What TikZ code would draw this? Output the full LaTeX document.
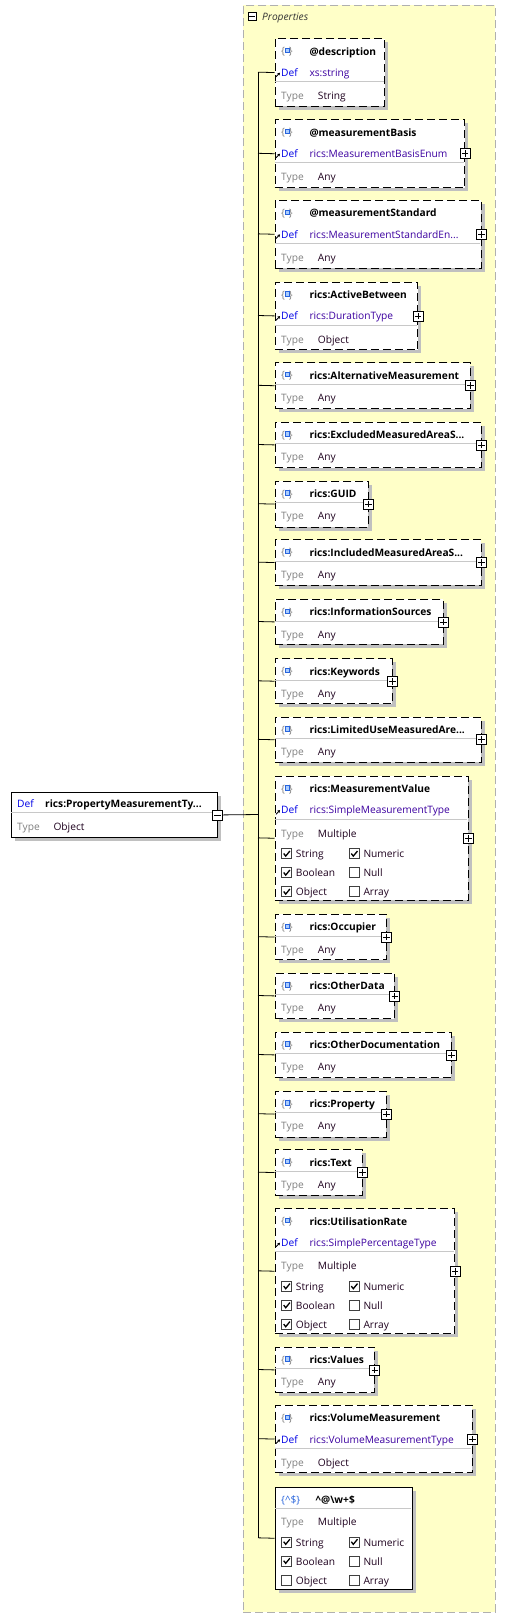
\documentclass[tikz,border=0pt]{standalone}
\usepackage{fontspec}
\setmainfont{Open Sans}
\usetikzlibrary{arrows.meta}
\definecolor{bgy}{RGB}{255,255,200}
\definecolor{bgb}{RGB}{176,176,176}
\definecolor{shd}{RGB}{192,192,192}
\definecolor{sepc}{RGB}{200,200,200}
\definecolor{defc}{RGB}{0,0,230}
\definecolor{valc}{RGB}{60,0,160}
\definecolor{typc}{RGB}{128,128,128}
\definecolor{txtc}{RGB}{30,0,30}
\definecolor{icb}{RGB}{40,100,220}
\definecolor{icf}{RGB}{170,205,255}
\newcommand\fsz{\fontsize{10.2}{12}\selectfont}
\tikzset{
  txt/.style={anchor=base west, inner sep=0pt, font=\fsz},
  ttl/.style={txt, font=\fsz\bfseries, text=black},
  deflbl/.style={txt, text=defc},
  defval/.style={txt, text=valc},
  lbl/.style={txt, text=typc},
  val/.style={txt, text=txtc},
  pbox/.style={draw=black, fill=white, line width=0.8pt, dash pattern=on 8pt off 4pt, inner sep=0pt, anchor=north west},
  sbox/.style={draw=black, fill=white, line width=0.8pt, inner sep=0pt, anchor=north west},
  sepl/.style={draw=sepc, line width=0.8pt},
  conn/.style={draw=black, line width=0.8pt},
  pm/.style={draw=black, fill=white, line width=0.8pt, minimum size=10pt, inner sep=0pt},
  cbx/.style={draw=black!75, fill=white, line width=0.7pt, minimum size=10pt, inner sep=0pt},
}
\newcommand\icon[3]{% name top x
  \node[txt, text=typc] (#1ib) at (280.8,{#2+16.5}) {\{};
  \node[txt, text=typc, anchor=base east] (#1ie) at (293,{#2+16.5}) {\}};
  \draw[draw=icb, fill=icf, line width=0.8pt] (284.9,{#2+10}) rectangle (289.3,{#2+14.4});
}
\newcommand\pb[7]{% id top bottom right title def type
  \fill[shd] (278.5,{#2+4}) rectangle ({#4+4},{#3+4});
  \node[pbox, minimum width={#4-274.5}, minimum height={#3-#2}] (#1) at (274.5,#2) {};
  \icon{#1}{#2}{}
  \node[ttl] (#1t) at (309.3,{#2+16.7}) {#5};
  \def\pbdef{#6}%
  \ifx\pbdef\empty
    \draw[sepl] (275,{#2+22}) -- ({#4-0.5},{#2+22});
    \node[lbl] (#1tl) at (281,{#2+39}) {Type};
    \node[val] (#1tv) at (317.7,{#2+39}) {#7};
  \else
    \node[deflbl] (#1dl) at (281,{#2+38}) {Def};
    \node[defval] (#1dv) at (309.3,{#2+38}) {#6};
    \draw[-{Stealth[length=2.6pt,width=3.2pt]}, line width=0.9pt] (275.9,{#2+38.6}) -- (280,{#2+34.4});
    \draw[sepl] (275,{#2+43.5}) -- ({#4-0.5},{#2+43.5});
    \node[lbl] (#1tl) at (281,{#2+61.4}) {Type};
    \node[val] (#1tv) at (317.7,{#2+61.4}) {#7};
  \fi
  \coordinate (j#1) at (258,{(#2+#3)/2});
  \draw[conn] (j#1) -- (#1.west);
}
\newcommand\plus[1]{%
  \node[pm] (#1p) at (#1.east) {};
  \draw[line width=0.8pt] ([xshift=-3.3pt]#1p.center) -- ([xshift=3.3pt]#1p.center);
  \draw[line width=0.8pt] ([yshift=-3.3pt]#1p.center) -- ([yshift=3.3pt]#1p.center);
}
\newcommand\cb[5]{% name x ycenter checked label
  \node[cbx] (#1) at (#2,#3) {};
  \ifnum#4=1
    \draw[line width=1.3pt, line join=miter] ([xshift=-3pt,yshift=0.3pt]#1.center) -- ([xshift=-1pt,yshift=-2.3pt]#1.center) -- ([xshift=3.2pt,yshift=2.8pt]#1.center);
  \fi
  \node[val] (#1l) at ({#2+9},{#3+4}) {#5};
}
\newcommand\checks[8]{% id typecenter s n b nl o a
  \cb{#1cs}{286.7}{#2+20.7}{#3}{String}
  \cb{#1cn}{354.3}{#2+20.7}{#4}{Numeric}
  \cb{#1cb}{286.7}{#2+39.7}{#5}{Boolean}
  \cb{#1cl}{354.3}{#2+39.7}{#6}{Null}
  \cb{#1co}{286.7}{#2+58.7}{#7}{Object}
  \cb{#1ca}{354.3}{#2+58.7}{#8}{Array}
}
\begin{document}
\begin{tikzpicture}[x=1pt, y=-1pt]
\useasboundingbox (0,0) rectangle (506,1618);
\fill[white] (0,0) rectangle (506,1618);
% container
\node[draw=bgb, fill=bgy, line width=0.8pt, dash pattern=on 8pt off 4pt, minimum width=252pt, minimum height=1607pt, inner sep=0pt, anchor=north west] (props) at (243,5) {};
\node[draw=black, fill=white, line width=0.7pt, minimum size=8pt, inner sep=0pt] (propsm) at (252,16) {};
\draw[line width=0.7pt] ([xshift=-2.6pt]propsm.center) -- ([xshift=2.6pt]propsm.center);
\node[txt, font=\fsz\itshape, text=black!80] (propst) at (262,20) {Properties};
% root
\fill[shd] (14.7,795.7) rectangle (220.7,841.3);
\node[sbox, minimum width=206pt, minimum height=45.6pt] (root) at (10.7,791.7) {};
\node[deflbl] (rootdl) at (17,807.3) {Def};
\node[ttl] (roott) at (45,807.3) {rics:PropertyMeasurementTy...};
\draw[sepl] (11.2,812.7) -- (216.2,812.7);
\node[lbl] (roottl) at (17,830.7) {Type};
\node[val] (roottv) at (53.3,830.7) {Object};
\node[pm] (rootm) at (root.east) {};
\draw[line width=0.8pt] ([xshift=-3.3pt]rootm.center) -- ([xshift=3.3pt]rootm.center);
\coordinate (jroot) at (258,814.5);
\draw[conn] (rootm.east) -- (jroot);
% children
\pb{b1}{38.3}{106}{384.3}{@description}{xs:string}{String}
\pb{b2}{119.3}{187.3}{464.3}{@measurementBasis}{rics:MeasurementBasisEnum}{Any}\plus{b2}
\pb{b3}{200}{267.7}{480.7}{@measurementStandard}{rics:MeasurementStandardEn...}{Any}\plus{b3}
\pb{b4}{281.7}{349.3}{417.3}{rics:ActiveBetween}{rics:DurationType}{Object}\plus{b4}
\pb{b5}{362.3}{408.3}{469.7}{rics:AlternativeMeasurement}{}{Any}\plus{b5}
\pb{b6}{421.7}{467.3}{480.7}{rics:ExcludedMeasuredAreaS...}{}{Any}\plus{b6}
\pb{b7}{480.7}{526.7}{367.7}{rics:GUID}{}{Any}\plus{b7}
\pb{b8}{539.3}{585}{480.7}{rics:IncludedMeasuredAreaS...}{}{Any}\plus{b8}
\pb{b9}{599}{644}{442.7}{rics:InformationSources}{}{Any}\plus{b9}
\pb{b10}{658.3}{703.3}{391.7}{rics:Keywords}{}{Any}\plus{b10}
\pb{b11}{716.7}{762}{480.7}{rics:LimitedUseMeasuredAre...}{}{Any}\plus{b11}
\pb{b12}{775.7}{900}{467.7}{rics:MeasurementValue}{rics:SimpleMeasurementType}{Multiple}\plus{b12}
\checks{b12}{833.1}{1}{1}{1}{0}{1}{0}
\pb{b13}{914}{959.3}{385.7}{rics:Occupier}{}{Any}\plus{b13}
\pb{b14}{972.7}{1018.3}{394}{rics:OtherData}{}{Any}\plus{b14}
\pb{b15}{1031.7}{1077.3}{450.7}{rics:OtherDocumentation}{}{Any}\plus{b15}
\pb{b16}{1090.7}{1136.7}{385.7}{rics:Property}{}{Any}\plus{b16}
\pb{b17}{1149.3}{1195}{361.7}{rics:Text}{}{Any}\plus{b17}
\pb{b18}{1208.3}{1333.3}{454.3}{rics:UtilisationRate}{rics:SimplePercentageType}{Multiple}\plus{b18}
\checks{b18}{1265.7}{1}{1}{1}{0}{1}{0}
\pb{b19}{1346.7}{1392.3}{374}{rics:Values}{}{Any}\plus{b19}
\pb{b20}{1405}{1472.3}{471.7}{rics:VolumeMeasurement}{rics:VolumeMeasurementType}{Object}\plus{b20}
% pattern property
\fill[shd] (278.5,1490.7) rectangle (415.7,1593);
\node[sbox, minimum width=137.2pt, minimum height=102.3pt] (b21) at (274.5,1486.7) {};
\node[txt, text=icb] (b21i) at (281,1503) {\{\textasciicircum\$\}};
\node[ttl] (b21t) at (315.5,1503) {\textasciicircum @\textbackslash w+\$};
\draw[sepl] (275,1508.3) -- (411.2,1508.3);
\node[lbl] (b21tl) at (281,1525) {Type};
\node[val] (b21tv) at (317.7,1525) {Multiple};
\checks{b21}{1521.3}{1}{1}{1}{0}{0}{0}
\coordinate (jb21) at (258,1537.8);
\draw[conn] (jb21) -- (b21.west);
% tree trunk
\draw[conn] (jb1) -- (jb21);
\end{tikzpicture}
\end{document}
